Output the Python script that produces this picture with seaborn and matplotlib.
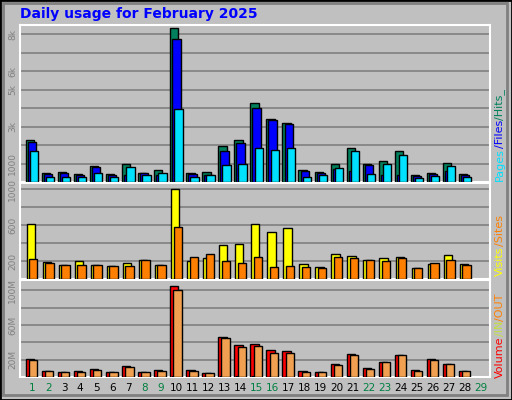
import matplotlib
matplotlib.use("Agg")
import matplotlib.pyplot as plt
import seaborn as sns
import pandas as pd
import numpy as np

days = list(range(1, 29))
all_days = list(range(1, 30))
hits = [2475, 530, 589, 471, 960, 471, 1060, 530, 707, 8953, 530, 589, 2120, 2474,
        4594, 3652, 3416, 707, 589, 1060, 2003, 1060, 1237, 1826, 412, 530, 1119, 471]
files = [2356, 448, 500, 412, 883, 412, 412, 530, 412, 8305, 448, 412, 1826, 2297,
         4300, 3593, 3357, 648, 530, 766, 648, 1001, 412, 412, 354, 471, 648, 412]
pages = [1826, 295, 295, 295, 530, 295, 883, 412, 530, 4241, 295, 412, 1001, 1060,
         2003, 1885, 2003, 295, 412, 824, 1826, 471, 1060, 1590, 236, 354, 943, 295]
visits = [610, 187, 153, 199, 153, 142, 176, 210, 153, 1000, 199, 233, 382, 393,
          610, 519, 565, 165, 130, 279, 256, 210, 233, 245, 119, 165, 267, 165]
sites = [222, 176, 153, 153, 153, 142, 142, 210, 153, 576, 245, 279, 199, 176,
         245, 130, 142, 130, 119, 245, 233, 210, 199, 233, 119, 176, 210, 153]
volume = [21.0, 7.0, 5.8, 7.0, 9.3, 5.8, 12.8, 5.8, 8.2, 105.6, 8.2, 4.7, 46.6, 37.3,
          38.5, 31.5, 30.3, 7.0, 5.8, 15.2, 26.8, 10.5, 17.5, 25.7, 8.2, 21.0, 15.2, 7.0]
vol_in = [1.0, 0.4, 0.4, 0.4, 0.4, 0.4, 0.4, 0.4, 0.4, 1.5, 0.4, 0.4, 1.0, 1.0,
          1.0, 0.5, 0.5, 0.4, 0.4, 0.5, 0.8, 0.4, 0.4, 0.5, 0.4, 0.5, 0.5, 0.4]
vol_out = [19.8, 7.0, 5.8, 5.8, 8.2, 5.8, 11.7, 5.8, 7.0, 101.0, 7.0, 4.7, 45.5, 35.0,
           36.1, 28.0, 28.0, 5.8, 5.8, 14.0, 25.7, 9.3, 17.5, 25.7, 7.0, 19.8, 15.2, 7.0]
weekend = [1, 2, 8, 9, 15, 16, 22, 23, 29]

BG = "#c0c0c0"
sns.set_theme(style="white", rc={"axes.facecolor": BG, "figure.facecolor": BG})
plt.rcParams["font.family"] = ["DejaVu Sans"]

fig = plt.figure(figsize=(5.12, 4.0), dpi=100)
L, W = 20 / 512, 470 / 512
ax_top = fig.add_axes([L, 1 - 182 / 400, W, 157 / 400])
ax_mid = fig.add_axes([L, 1 - 279 / 400, W, 96 / 400])
ax_bot = fig.add_axes([L, 1 - 377 / 400, W, 97 / 400])


def bars(ax, vals, off, color):
    df = pd.DataFrame({"x": np.array(days) + off, "y": vals})
    sns.barplot(data=df, x="x", y="y", native_scale=True, width=0.52, color=color,
                saturation=1, edgecolor="black", linewidth=1, ax=ax, zorder=3)


bars(ax_top, hits, -0.13, "#00805c")
bars(ax_top, files, 0.0, "#0000ff")
bars(ax_top, pages, 0.13, "#00e0ff")
bars(ax_mid, visits, -0.08, "#ffff00")
bars(ax_mid, sites, 0.08, "#ff8000")
bars(ax_bot, volume, -0.13, "#ff0000")
bars(ax_bot, vol_in, -0.02, "#80ff40")
bars(ax_bot, vol_out, 0.07, "#f0a050")

setups = [
    (ax_top, 9147, [1075 * k for k in range(1, 9)], {1: "1000", 3: "3k", 5: "5k", 6: "6k", 8: "8k"}),
    (ax_mid, 1071, [200 * k for k in range(1, 6)], {1: "200", 3: "600", 5: "1000"}),
    (ax_bot, 112, [20 * k for k in range(1, 6)], {1: "20M", 3: "60M", 5: "100M"}),
]
for ax, top, grid, labs in setups:
    ax.set_xlim(0.25, 29.55)
    ax.set_ylim(0, top)
    ax.set_yticks(grid)
    ax.set_yticklabels([labs.get(i + 1, "") for i in range(len(grid))],
                       rotation=90, va="center", color="#808080", fontsize=6.5)
    ax.tick_params(axis="y", length=0, pad=2)
    ax.grid(axis="y", color="#808080", linewidth=1.2, zorder=0)
    ax.set_xlabel("")
    ax.set_ylabel("")
    for s in ax.spines.values():
        s.set_color("white")
        s.set_linewidth(1.5)
    ax.set_xticks([])

ax_bot.set_xticks(all_days)
ax_bot.set_xticklabels([str(d) for d in all_days], fontsize=7.5)
ax_bot.tick_params(axis="x", length=0, pad=4)
for lbl, d in zip(ax_bot.get_xticklabels(), all_days):
    lbl.set_color("#008040" if d in weekend else "black")

fig.text(20 / 512, 1 - 14 / 400, "Daily usage for February 2025", color="#0000ff",
         fontsize=10, fontweight="bold", va="center")

renderer = fig.canvas.get_renderer()


def side(parts, y0):
    # stack rotated pieces upward, measuring each one
    y = 400 - y0
    for txt, col in parts:
        t = fig.text(500 / 512, y / 400, txt, color=col, rotation=90, fontsize=8,
                     ha="center", va="bottom")
        y += t.get_window_extent(renderer).height


side([("Pages", "#00e0ff"), ("/Files", "#0000ff"), ("/Hits_", "#00805c")], 181)
side([("Visits", "#ffff00"), ("/Sites", "#ff8000")], 276)
side([("Volume", "#ff0000"), ("/IN", "#c0e040"), ("/OUT", "#ff8000")], 378)

# window border
fig.patches.append(plt.Rectangle((0, 0), 1, 1, transform=fig.transFigure, fill=False,
                                 edgecolor="black", linewidth=2))
fig.patches.append(plt.Rectangle((3 / 512, 5 / 400), 504 / 512, 392 / 400,
                                 transform=fig.transFigure, fill=False,
                                 edgecolor="#808080", linewidth=2))

fig.savefig("out.png", dpi=100)
